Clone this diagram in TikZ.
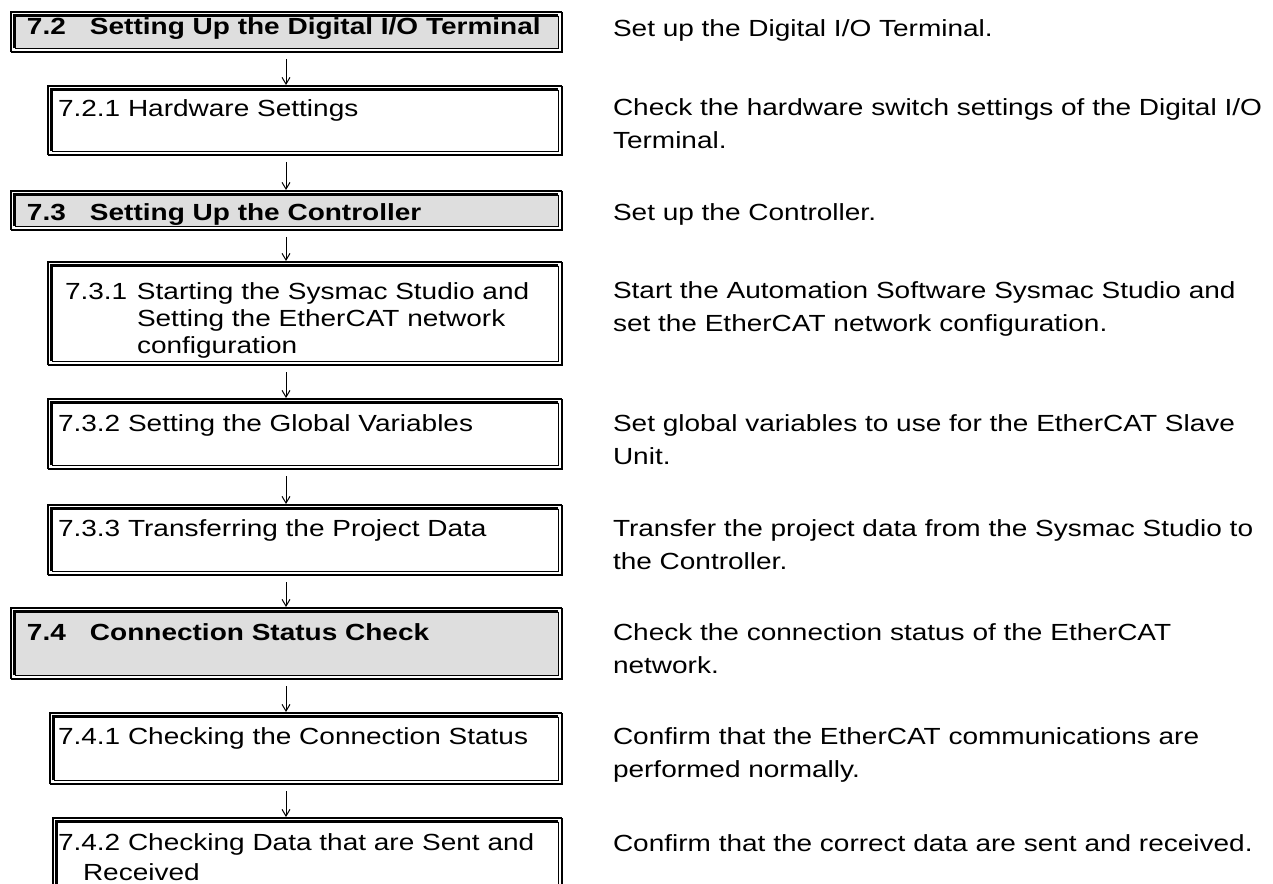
\documentclass[tikz,border=0pt]{standalone}
\usepackage{fontspec}
\setmainfont{Liberation Sans}[FakeStretch=1.20]
\usetikzlibrary{arrows.meta,calc,backgrounds}
\newlength\pxu \setlength\pxu{0.75pt}
\newlength\insetu \setlength\insetu{2.7pt}
\definecolor{hdrgray}{RGB}{222,222,222}
\newcommand\boxfont{\fontsize{17.5pt}{20.6pt}\selectfont}
\newcommand\descfont{\fontsize{17.5pt}{24.75pt}\selectfont}
% double frame: outer thin (left/top) + thick (right/bottom); inner thick (left/top) + thin (right/bottom)
\newcommand\drawframe[1]{%
  \draw[thinln] (#1.south west) -- (#1.north west) -- (#1.north east);
  \draw[thickln] (#1.north east) -- (#1.south east) -- (#1.south west);
  \draw[thickln] ([xshift=\insetu,yshift=\insetu]#1.south west) -- ([xshift=\insetu,yshift=-\insetu]#1.north west) -- ([xshift=-\insetu,yshift=-\insetu]#1.north east);
  \draw[thinln] ([xshift=-\insetu,yshift=-\insetu]#1.north east) -- ([xshift=-\insetu,yshift=\insetu]#1.south east) -- ([xshift=\insetu,yshift=\insetu]#1.south west);
}
\newcommand\drawhframe[1]{%
  \begin{scope}[on background layer]
    \fill[hdrgray] ([xshift=\insetu,yshift=-\insetu]#1.north west) rectangle ([xshift=-\insetu,yshift=\insetu]#1.south east);
  \end{scope}
  \drawframe{#1}%
}
\newcommand\drawopenframe[1]{%
  \draw[thinln] (#1.south west) -- (#1.north west) -- (#1.north east);
  \draw[thickln] (#1.north east) -- (#1.south east);
  \draw[thickln] ([xshift=\insetu]#1.south west) -- ([xshift=\insetu,yshift=-\insetu]#1.north west) -- ([xshift=-\insetu,yshift=-\insetu]#1.north east);
  \draw[thinln] ([xshift=-\insetu,yshift=-\insetu]#1.north east) -- ([xshift=-\insetu]#1.south east);
}
\begin{document}
\begin{tikzpicture}[x=0.75pt,y=-0.75pt,
  every node/.style={inner sep=0pt,outer sep=0pt},
  boxn/.style={anchor=north west,font=\boxfont},
  desc/.style={anchor=base west,font=\descfont},
  flow/.style={line width=0.75pt,-{Straight Barb[length=5pt,width=6pt]},shorten >=0.75pt},
  thinln/.style={line width=0.8pt},
  thickln/.style={line width=1.9pt}]
\useasboundingbox (0,0) rectangle (1273,884);
\coordinate (ax) at (286,0);

% left column boxes
\node[boxn] (h72) at (11,12) {\parbox[c][40\pxu][t]{551\pxu}{\raggedright\leftskip=16\pxu\bfseries\rule{0pt}{23\pxu}\makebox[63\pxu][l]{7.2}Setting Up the Digital I/O Terminal}};
\node[boxn] (s721) at (48,86) {\parbox[c][69\pxu][t]{514\pxu}{\raggedright\leftskip=10\pxu\rule{0pt}{31\pxu}7.2.1 Hardware Settings}};
\node[boxn] (h73) at (11,191) {\parbox[c][39\pxu][t]{551\pxu}{\raggedright\leftskip=16\pxu\bfseries\rule{0pt}{30\pxu}\makebox[63\pxu][l]{7.3}Setting Up the Controller}};
\node[boxn] (s731) at (48,262) {\parbox[c][103\pxu][t]{514\pxu}{\raggedright\leftskip=17\pxu\rule{0pt}{37\pxu}\makebox[72\pxu][l]{7.3.1}Starting the Sysmac Studio and\\\hspace*{72\pxu}Setting the EtherCAT network\\\hspace*{72\pxu}configuration}};
\node[boxn] (s732) at (48,399) {\parbox[c][70\pxu][t]{514\pxu}{\raggedright\leftskip=10\pxu\rule{0pt}{32\pxu}7.3.2 Setting the Global Variables}};
\node[boxn] (s733) at (48,505) {\parbox[c][70\pxu][t]{514\pxu}{\raggedright\leftskip=10\pxu\rule{0pt}{31\pxu}7.3.3 Transferring the Project Data}};
\node[boxn] (h74) at (11,608) {\parbox[c][71\pxu][t]{551\pxu}{\raggedright\leftskip=16\pxu\bfseries\rule{0pt}{32\pxu}\makebox[63\pxu][l]{7.4}Connection Status Check}};
\node[boxn] (s741) at (50,713) {\parbox[c][71\pxu][t]{512\pxu}{\raggedright\leftskip=8\pxu\rule{0pt}{31\pxu}7.4.1 Checking the Connection Status}};
\node[boxn] (s742) at (53,818) {\parbox[c][66\pxu][t]{509\pxu}{\raggedright\leftskip=5\pxu\baselineskip=30\pxu\rule{0pt}{32\pxu}7.4.2 Checking Data that are Sent and\\\hspace*{25\pxu}Received}};

% frames
\drawhframe{h72}
\drawframe{s721}
\drawhframe{h73}
\drawframe{s731}
\drawframe{s732}
\drawframe{s733}
\drawhframe{h74}
\drawframe{s741}
\drawopenframe{s742}

% connectors
\draw[flow] ($(h72.south -| ax)+(0,7)$) -- (s721.north -| ax);
\draw[flow] ($(s721.south -| ax)+(0,7)$) -- (h73.north -| ax);
\draw[flow] ($(h73.south -| ax)+(0,7)$) -- (s731.north -| ax);
\draw[flow] ($(s731.south -| ax)+(0,7)$) -- (s732.north -| ax);
\draw[flow] ($(s732.south -| ax)+(0,7)$) -- (s733.north -| ax);
\draw[flow] ($(s733.south -| ax)+(0,7)$) -- (h74.north -| ax);
\draw[flow] ($(h74.south -| ax)+(0,7)$) -- (s741.north -| ax);
\draw[flow] ($(s741.south -| ax)+(0,7)$) -- (s742.north -| ax);

% right column descriptions
\node[desc] (d72) at (613,37) {\parbox[t]{660\pxu}{\raggedright Set up the Digital I/O Terminal.}};
\node[desc] (d721) at (613,116) {\parbox[t]{660\pxu}{\raggedright Check the hardware switch settings of the Digital I/O\\Terminal.}};
\node[desc] (d73) at (613,221) {\parbox[t]{660\pxu}{\raggedright Set up the Controller.}};
\node[desc] (d731) at (613,298) {\parbox[t]{660\pxu}{\raggedright Start the Automation Software Sysmac Studio and\\set the EtherCAT network configuration.}};
\node[desc] (d732) at (613,431) {\parbox[t]{660\pxu}{\raggedright Set global variables to use for the EtherCAT Slave\\Unit.}};
\node[desc] (d733) at (613,536) {\parbox[t]{660\pxu}{\raggedright Transfer the project data from the Sysmac Studio to\\the Controller.}};
\node[desc] (d74) at (613,640) {\parbox[t]{660\pxu}{\raggedright Check the connection status of the EtherCAT\\network.}};
\node[desc] (d741) at (613,744) {\parbox[t]{660\pxu}{\raggedright Confirm that the EtherCAT communications are\\performed normally.}};
\node[desc] (d742) at (613,851) {\parbox[t]{660\pxu}{\raggedright Confirm that the correct data are sent and received.}};
\end{tikzpicture}
\end{document}
